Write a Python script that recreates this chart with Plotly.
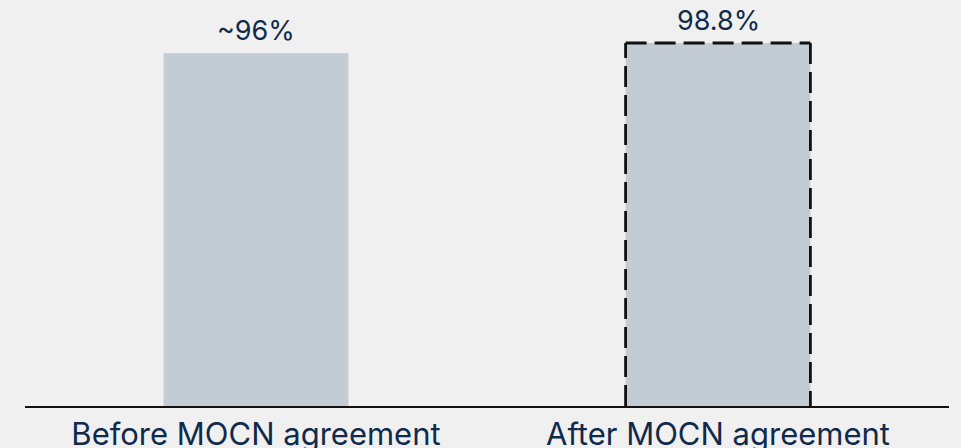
import plotly.graph_objects as go

categories = ["Before MOCN agreement", "After MOCN agreement"]
values = [96.0, 98.8]
value_labels = ["~96%", "98.8%"]

TEXT = "#102a4c"
FILL = "#c3cbd3"
BG = "#f0f0f0"
FONT = "Inter"
BAR_W = 0.4

fig = go.Figure()
fig.add_trace(go.Bar(
    x=categories, y=values,
    marker=dict(color=FILL, line=dict(width=0)),
    cliponaxis=False, width=BAR_W, hoverinfo="skip",
))

for c, v, t in zip(categories, values, value_labels):
    fig.add_annotation(x=c, y=v, text=t, showarrow=False, yanchor="bottom",
                       yshift=4, font=dict(size=27, color=TEXT, family=FONT))

# dashed outline (left, top, right) for the second bar
idx = 1
dash_line = dict(color="#111111", width=2.8, dash="21px,8px")
xl, xr, top = idx - BAR_W / 2, idx + BAR_W / 2, values[idx]
for (a0, b0, a1, b1) in [(xl, 0, xl, top), (xl, top, xr, top), (xr, top, xr, 0)]:
    fig.add_shape(type="line", xref="x", yref="y", x0=a0, y0=b0, x1=a1, y1=b1,
                  line=dash_line, layer="above")

fig.update_layout(
    width=961, height=448,
    paper_bgcolor=BG, plot_bgcolor=BG,
    margin=dict(l=25, r=12, t=0, b=42, autoexpand=False),
    showlegend=False,
    font=dict(family=FONT, color=TEXT),
    xaxis=dict(showgrid=False, showline=True, linecolor="#111111", linewidth=2,
               ticks="", tickfont=dict(size=31, color=TEXT, family=FONT),
               ticklabelstandoff=0, automargin=False, zeroline=False),
    yaxis=dict(visible=False, range=[0, 110.5], showgrid=False, zeroline=False,
               automargin=False),
)

fig.write_html("out.html", config={"displayModeBar": False},
               post_script="document.body.style.margin='0px';document.body.style.background='#f0f0f0';")
